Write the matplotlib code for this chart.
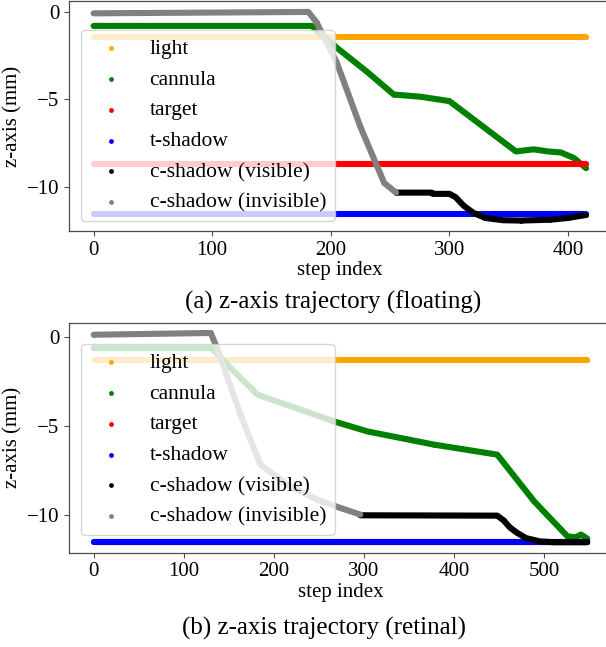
import matplotlib
matplotlib.use("Agg")
import matplotlib.pyplot as plt

plt.rcParams['font.family'] = ['Liberation Serif', 'DejaVu Serif']

# ---- (a) floating ----
a_last_step = 415
a_light = -1.44
a_target = -8.70
a_tshadow = -11.57
a_cannula_x = [0, 184, 205, 230, 253, 276, 300, 356, 371, 383, 394, 405, 415]
a_cannula_y = [-0.80, -0.80, -2.05, -3.40, -4.73, -4.86, -5.11, -7.99, -7.87, -7.99, -8.05, -8.37, -8.94]
a_inv_x = [0, 181, 188, 205, 225, 245, 255]
a_inv_y = [-0.08, 0.0, -0.60, -2.90, -6.60, -9.80, -10.35]
a_vis_x = [255, 285, 286, 300, 305, 312, 320, 330, 345, 360, 385, 400, 415]
a_vis_y = [-10.35, -10.35, -10.42, -10.42, -10.60, -11.10, -11.50, -11.80, -11.93, -11.95, -11.90, -11.80, -11.63]

# ---- (b) retinal ----
b_last_step = 548
b_light = -1.30
b_target = -11.53
b_tshadow = -11.53
b_cannula_x = [0, 131, 156, 182, 267, 304, 378, 448, 489, 526, 535, 541, 548]
b_cannula_y = [-0.65, -0.65, -1.96, -3.26, -4.76, -5.32, -6.06, -6.62, -9.24, -11.20, -11.25, -11.10, -11.33]
b_inv_x = [0, 130, 137, 163, 185, 215, 248, 274, 296]
b_inv_y = [0.10, 0.20, -0.65, -4.38, -7.17, -8.30, -9.14, -9.61, -9.98]
b_vis_x = [296, 448, 455, 462, 470, 480, 495, 510, 548]
b_vis_y = [-10.02, -10.04, -10.30, -10.70, -11.00, -11.30, -11.48, -11.53, -11.53]

labels = ['light', 'cannula', 'target', 't-shadow', 'c-shadow (visible)', 'c-shadow (invisible)']
colors = ['orange', 'green', 'red', 'blue', 'black', 'gray']

fig = plt.figure(figsize=(6.06, 6.47), dpi=100)
ax_a = fig.add_axes([69 / 606, 1 - 231 / 647, 541.5 / 606, 229.5 / 647])
ax_b = fig.add_axes([69 / 606, 1 - 552.7 / 647, 543 / 606, 230.2 / 647])


def draw(ax, last, light, target, tshadow, can_x, can_y, vis_x, vis_y, inv_x, inv_y, legend_top):
    series = [
        ([0, last], [light, light]),
        (can_x, can_y),
        ([0, last], [target, target]),
        ([0, last], [tshadow, tshadow]),
        (vis_x, vis_y),
        (inv_x, inv_y),
    ]
    for (xs, ys), lab, c in zip(series, labels, colors):
        ax.plot(xs, ys, color=c, lw=4.4, solid_capstyle='round', solid_joinstyle='round')
        ax.scatter(xs, ys, s=12, color=c, label=lab, linewidths=0)
    for sp in ax.spines.values():
        sp.set_color('0.3')
        sp.set_linewidth(0.9)
    ax.tick_params(colors='0.3', labelcolor='black', labelsize=15, length=3.5)
    ax.set_yticks([0, -5, -10])
    ax.set_xlabel('step index', fontsize=15, labelpad=1)
    ax.set_ylabel('z-axis (mm)', fontsize=15, labelpad=3)
    ax.legend(loc='upper left', bbox_to_anchor=(80.7 / 606, 1 - legend_top / 647),
              bbox_transform=fig.transFigure, fontsize=15.5, framealpha=0.8, borderaxespad=0)


draw(ax_a, a_last_step, a_light, a_target, a_tshadow, a_cannula_x, a_cannula_y,
     a_vis_x, a_vis_y, a_inv_x, a_inv_y, 30)
draw(ax_b, b_last_step, b_light, b_target, b_tshadow, b_cannula_x, b_cannula_y,
     b_vis_x, b_vis_y, b_inv_x, b_inv_y, 344)

fig.text(333 / 606, 1 - 302 / 647, '(a) z-axis trajectory (floating)', fontsize=18,
         ha='center', va='center')
fig.text(324 / 606, 1 - 628 / 647, '(b) z-axis trajectory (retinal)', fontsize=18,
         ha='center', va='center')

fig.savefig('out.png', dpi=100)
